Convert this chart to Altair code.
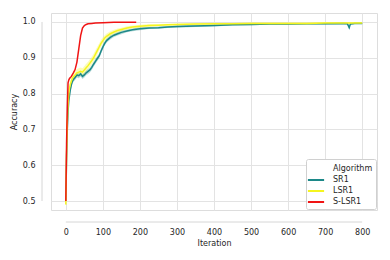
import altair as alt
import pandas as pd

# ---------------- data ----------------
algorithms = ["SR1", "LSR1", "S-LSR1"]
colors = ["#1c8888", "#f5f51f", "#f01414"]
legend_title = "Algorithm"

iters = [0, 2, 4, 6, 8, 10, 12, 15, 18, 21, 25, 30, 35, 40, 45, 50, 55, 60, 65, 70,
         75, 80, 85, 90, 95, 100, 105, 110, 120, 130, 140, 150, 165, 180, 200, 225,
         250, 275, 300, 350, 400, 450, 500, 550, 600, 650, 700, 750, 760, 765, 768,
         780, 800]

sr1_acc = [0.500, 0.620, 0.700, 0.750, 0.780, 0.795, 0.810, 0.825, 0.835, 0.840,
           0.845, 0.852, 0.850, 0.855, 0.848, 0.852, 0.858, 0.862, 0.866, 0.873,
           0.882, 0.890, 0.898, 0.905, 0.918, 0.930, 0.940, 0.948, 0.957, 0.963,
           0.967, 0.971, 0.975, 0.978, 0.981, 0.983, 0.984, 0.986, 0.987, 0.989,
           0.990, 0.992, 0.993, 0.994, 0.994, 0.995, 0.995, 0.996, 0.995, 0.984,
           0.994, 0.996, 0.996]
sr1_err = [0.004, 0.010, 0.010, 0.008, 0.008, 0.007, 0.007, 0.007, 0.007, 0.007,
           0.007, 0.007, 0.007, 0.007, 0.007, 0.007, 0.007, 0.007, 0.007, 0.007,
           0.007, 0.007, 0.007, 0.007, 0.007, 0.007, 0.006, 0.006, 0.006, 0.005,
           0.005, 0.005, 0.004, 0.004, 0.004, 0.003, 0.003, 0.003, 0.003, 0.003,
           0.003, 0.002, 0.002, 0.002, 0.002, 0.002, 0.002, 0.002, 0.002, 0.006,
           0.002, 0.002, 0.002]

lsr1_acc = [0.490, 0.630, 0.720, 0.770, 0.800, 0.815, 0.825, 0.835, 0.843, 0.848,
            0.852, 0.858, 0.860, 0.862, 0.860, 0.866, 0.872, 0.878, 0.885, 0.892,
            0.900, 0.910, 0.920, 0.930, 0.940, 0.948, 0.955, 0.960, 0.967, 0.972,
            0.976, 0.979, 0.983, 0.986, 0.988, 0.990, 0.991, 0.992, 0.993, 0.994,
            0.995, 0.995, 0.996, 0.996, 0.996, 0.996, 0.997, 0.997, 0.997, 0.997,
            0.997, 0.997, 0.997]
lsr1_err = [0.006, 0.014, 0.014, 0.012, 0.012, 0.011, 0.011, 0.011, 0.011, 0.011,
            0.011, 0.011, 0.011, 0.011, 0.011, 0.011, 0.011, 0.011, 0.011, 0.011,
            0.011, 0.011, 0.011, 0.010, 0.010, 0.009, 0.008, 0.008, 0.007, 0.006,
            0.006, 0.005, 0.005, 0.004, 0.004, 0.004, 0.003, 0.003, 0.003, 0.003,
            0.003, 0.003, 0.003, 0.003, 0.003, 0.003, 0.003, 0.003, 0.003, 0.003,
            0.003, 0.003, 0.003]

slsr1_iters = [0, 2, 4, 6, 8, 10, 15, 20, 25, 30, 35, 40, 45, 50, 55, 60, 70, 80,
               100, 130, 160, 190]
slsr1_acc = [0.500, 0.660, 0.760, 0.830, 0.838, 0.842, 0.848, 0.857, 0.867, 0.888,
             0.925, 0.962, 0.983, 0.990, 0.993, 0.995, 0.996, 0.997, 0.998, 0.999,
             0.999, 0.999]

x_ticks = [0, 100, 200, 300, 400, 500, 600, 700, 800]
y_ticks = [0.5, 0.6, 0.7, 0.8, 0.9, 1.0]

# ---------------- table ----------------
rows = []
for it, a, e in zip(iters, sr1_acc, sr1_err):
    rows.append({"Iteration": it, "Accuracy": a, "lo": a - e, "hi": a + e, "Algorithm": "SR1"})
for it, a, e in zip(iters, lsr1_acc, lsr1_err):
    rows.append({"Iteration": it, "Accuracy": a, "lo": a - e, "hi": a + e, "Algorithm": "LSR1"})
for it, a in zip(slsr1_iters, slsr1_acc):
    rows.append({"Iteration": it, "Accuracy": a, "lo": a, "hi": a, "Algorithm": "S-LSR1"})
df = pd.DataFrame(rows)
df["order"] = df["Algorithm"].map({k: i for i, k in enumerate(algorithms)})

TXT = "#262626"
GRID = "#e3e3e3"

xscale = alt.Scale(domain=[-40, 840], nice=False, zero=False)
yscale = alt.Scale(domain=[0.475, 1.025], nice=False, zero=False)
# the legend heading is shown seaborn-style as a handle-less first entry
cscale = alt.Scale(domain=[legend_title] + algorithms,
                   range=["rgba(0,0,0,0)"] + colors)

base = alt.Chart(df)

xaxis = alt.Axis(values=x_ticks, domain=False,
                 ticks=False, offset=12, labelPadding=6, titlePadding=3,
                 gridColor=GRID, title="Iteration", labelOverlap=False)
yaxis = alt.Axis(values=y_ticks, format=".1f", domain=False,
                 ticks=False, offset=9, labelPadding=7, titlePadding=4,
                 gridColor=GRID, title="Accuracy", labelOverlap=False)

bands = base.transform_filter(alt.datum.Algorithm != "S-LSR1").mark_area(opacity=0.3).encode(
    x=alt.X("Iteration:Q", scale=xscale, axis=xaxis),
    y=alt.Y("lo:Q", scale=yscale, axis=yaxis),
    y2="hi:Q",
    color=alt.Color("Algorithm:N", scale=cscale, legend=None),
    detail="Algorithm:N",
)

lines = base.mark_line(strokeWidth=1.5).encode(
    x=alt.X("Iteration:Q", scale=xscale, axis=xaxis),
    y=alt.Y("Accuracy:Q", scale=yscale, axis=yaxis),
    color=alt.Color(
        "Algorithm:N", scale=cscale,
        legend=alt.Legend(
            title=None, orient="none", legendX=255, legendY=146,
            symbolType="M-1.35,0H1.35", symbolSize=144, symbolStrokeWidth=2,
            rowPadding=0, padding=3,
            strokeColor="#d0d0d0", fillColor="white", cornerRadius=2,
            labelOffset=10,
        ),
    ),
    order="order:Q",
)

axis_lines_df = pd.DataFrame({"x0": [0], "x1": [800], "y0": [0.5], "y1": [1.0]})
xline = alt.Chart(axis_lines_df).mark_rule(color="#d6d6d6", strokeWidth=1).encode(
    x=alt.X("x0:Q", scale=xscale, axis=xaxis), x2="x1:Q", y=alt.value(209))
yline = alt.Chart(axis_lines_df).mark_rule(color="#d6d6d6", strokeWidth=1).encode(
    y=alt.Y("y0:Q", scale=yscale, axis=yaxis), y2="y1:Q", x=alt.value(-9))

chart = alt.layer(bands, lines, xline, yline).resolve_legend(
    color="independent"
).properties(
    width=326, height=197,
    autosize=alt.AutoSizeParams(type="none"),
    padding={"left": 43, "top": 5, "right": 5, "bottom": 45},
).configure_view(stroke=None).configure(
    font="DejaVu Sans",
).configure_axis(
    labelFontSize=8, titleFontSize=8, labelColor=TXT, titleColor=TXT,
    titleFontWeight="normal", gridWidth=1,
).configure_legend(
    labelFontSize=8, titleFontSize=8, labelColor=TXT, titleColor=TXT,
    titleFontWeight="normal",
)

chart.save("out.html", embed_options={"renderer": "svg", "actions": False})
